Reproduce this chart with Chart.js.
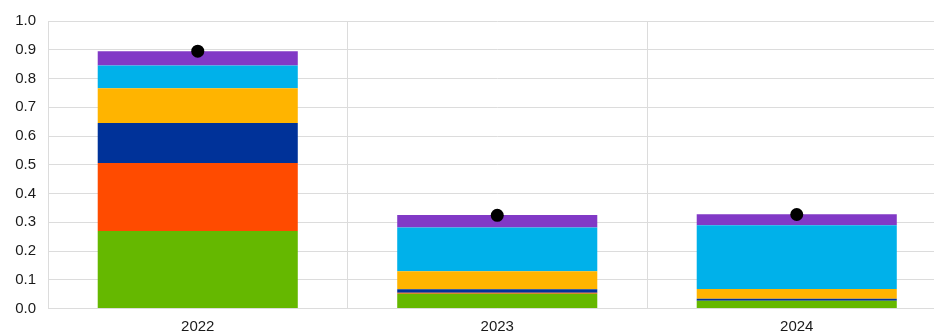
<!DOCTYPE html>
<html>
<head>
<meta charset="utf-8">
<script src="https://cdn.jsdelivr.net/npm/chart.js@4"></script>
<style>
html,body{margin:0;padding:0;background:#fff;overflow:hidden;}
#wrap{width:953px;height:333px;}
</style>
</head>
<body>
<div id="wrap"><canvas id="c" width="953" height="333"></canvas></div>
<script>
const categories = ['2022', '2023', '2024'];
const seriesGreen  = [0.270, 0.051, 0.027];
const seriesRed    = [0.236, 0.004, 0.000];
const seriesNavy   = [0.139, 0.012, 0.007];
const seriesYellow = [0.121, 0.063, 0.034];
const seriesCyan   = [0.079, 0.152, 0.222];
const seriesPurple = [0.050, 0.043, 0.038];
const totals       = [0.895, 0.324, 0.327];
const yTicks = [0.0, 0.1, 0.2, 0.3, 0.4, 0.5, 0.6, 0.7, 0.8, 0.9, 1.0];

const mk = (label, data, color) => ({
  type: 'bar', label, data, backgroundColor: color, borderWidth: 0,
  stack: 's', barPercentage: 0.668, categoryPercentage: 1.0, order: 2
});

new Chart(document.getElementById('c'), {
  data: {
    labels: categories,
    datasets: [
      {type: 'line', label: 'total', data: totals, showLine: false,
       pointRadius: 6.5, pointHoverRadius: 6.5, pointBackgroundColor: '#000',
       pointBorderWidth: 0, borderColor: '#000', order: 0},
      mk('green', seriesGreen, '#65b800'),
      mk('red', seriesRed, '#ff4b00'),
      mk('navy', seriesNavy, '#003299'),
      mk('yellow', seriesYellow, '#ffb400'),
      mk('cyan', seriesCyan, '#00b1ea'),
      mk('purple', seriesPurple, '#8139c6')
    ]
  },
  options: {
    responsive: false,
    animation: false,
    layout: {padding: {top: 21, right: 0, left: 0, bottom: 0}},
    plugins: {legend: {display: false}, tooltip: {enabled: false}},
    scales: {
      x: {
        stacked: true,
        offset: true,
        grid: {display: true, offset: true, color: '#dcdcdc', lineWidth: 1, drawTicks: false},
        border: {display: true, color: '#dcdcdc'},
        ticks: {color: '#1a1a1a', font: {family: 'Liberation Sans, Arial', size: 15}, padding: 9},
        afterFit: s => { s.height = 24.5; }
      },
      y: {
        stacked: true,
        min: 0, max: 1,
        afterBuildTicks: s => { s.ticks = yTicks.map(v => ({value: v})); },
        grid: {color: '#dcdcdc', lineWidth: 1, drawTicks: false},
        border: {display: true, color: '#dcdcdc'},
        ticks: {color: '#1a1a1a', font: {family: 'Liberation Sans, Arial', size: 15}, padding: 12,
                callback: v => Number(v).toFixed(1)},
        afterFit: s => { s.width = 48; }
      }
    }
  }
});
</script>
</body>
</html>
